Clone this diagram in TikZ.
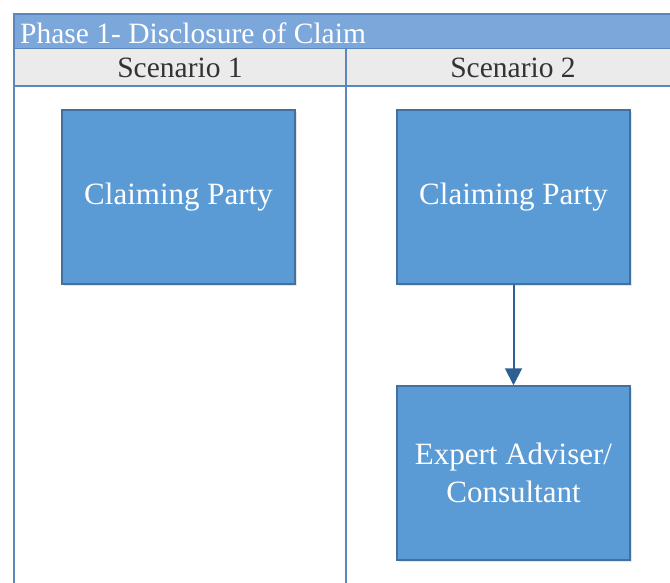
\documentclass[tikz,border=0pt]{standalone}
\usepackage{fontspec}
\setmainfont{Liberation Serif}
\usetikzlibrary{arrows.meta,shadows}
\definecolor{phasefill}{HTML}{7BA7DB}
\definecolor{laneline}{HTML}{5A88BE}
\definecolor{headfill}{HTML}{EBEBEB}
\definecolor{boxfill}{HTML}{5B9BD5}
\definecolor{boxline}{HTML}{41719C}
\definecolor{arrowcol}{HTML}{2E5F92}
\tikzset{
  procbox/.style={draw=boxline, line width=1.5pt, fill=boxfill, minimum width=233pt, minimum height=174pt,
    text=white, align=center, font=\fontsize{31}{38}\selectfont, inner sep=0pt,
    drop shadow={shadow xshift=1.5pt, shadow yshift=-2pt, opacity=0.25, fill=black!40}},
  lanetext/.style={font=\fontsize{29.5}{32}\selectfont, inner sep=0pt},
  laneedge/.style={draw=laneline, line width=2.5pt},
  flow/.style={draw=arrowcol, line width=2pt, -{Triangle[length=17pt,width=17pt]}}
}
\begin{document}
\begin{tikzpicture}[x=1pt,y=-1pt]
\useasboundingbox (0,0) rectangle (670,583);
% phase header bar
\path[fill=phasefill] (14,14) rectangle (672,49);
\draw[laneedge] (672,14) -- (14,14) -- (14,49) -- (672,49);
\node[lanetext, anchor=west, text=white] (phase) at (20,33) {Phase 1- Disclosure of Claim};
% scenario heading row
\path[fill=headfill] (14,49) rectangle (672,86);
\draw[laneedge] (14,86) -- (672,86);
\node[lanetext, text=black!80] (s1) at (180,68) {Scenario 1};
\node[lanetext, text=black!80] (s2) at (513,68) {Scenario 2};
% lane separators
\draw[laneedge] (14,49) -- (14,585);
\draw[laneedge] (346,49) -- (346,585);
% process boxes
\node[procbox] (cp1) at (178.5,197) {\raisebox{-3pt}{Claiming Party}};
\node[procbox] (cp2) at (513.5,197) {\raisebox{-3pt}{Claiming Party}};
\node[procbox] (exp) at (513.5,473) {Expert Adviser/\\Consultant};
\draw[flow] (cp2) -- (exp);
\end{tikzpicture}
\end{document}
